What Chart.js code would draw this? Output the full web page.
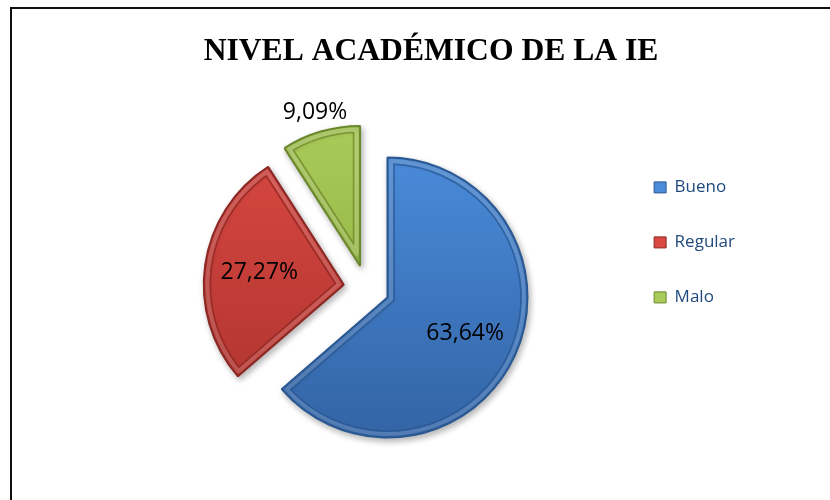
<!DOCTYPE html>
<html lang="es">
<head>
<meta charset="UTF-8">
<title>Nivel académico de la IE</title>
<style>
  html, body { margin: 0; padding: 0; background: #fff; }
  #wrap { position: relative; width: 830px; height: 500px; overflow: hidden; }
  #frame { position: absolute; left: 10px; top: 7px; width: 900px; height: 600px;
           border-left: 2px solid #111; border-top: 2px solid #111; }
  #chart { position: absolute; left: 0; top: 0; }
</style>
</head>
<body>
<div id="wrap">
  <div id="frame"></div>
  <canvas id="chart" width="830" height="500"></canvas>
</div>

<script src="https://cdn.jsdelivr.net/npm/chart.js"></script>
<script>
  const categories = ['Bueno', 'Regular', 'Malo'];
  const percentages = [63.64, 27.27, 9.09];

  const topColors = ['#4A8BDA', '#DA4842', '#A9CB59'];
  const bottomColors = ['#3263A4', '#AC322D', '#88A93A'];
  const edgeColors = ['#2A5892', '#8C2824', '#6C882C'];

  const fmt = v => v.toFixed(2).replace('.', ',') + '%';
  const total = percentages.reduce((a, b) => a + b, 0);

  // vertical gradient per slice colour, across the chart area
  const sliceFill = (context) => {
    const i = context.dataIndex;
    const {ctx, chartArea} = context.chart;
    if (!chartArea) return topColors[i];
    const g = ctx.createLinearGradient(0, chartArea.top, 0, chartArea.bottom);
    g.addColorStop(0, topColors[i]);
    g.addColorStop(1, bottomColors[i]);
    return g;
  };

  // centre of a slice once it is pulled out of the pie
  function sliceCentre(arc, dist) {
    const mid = (arc.startAngle + arc.endAngle) / 2;
    return { x: arc.x + Math.cos(mid) * dist, y: arc.y + Math.sin(mid) * dist, mid };
  }

  // path of the slice shrunk inwards by d pixels
  function insetPath(ctx, cx, cy, r, a0, a1, d) {
    const half = (a1 - a0) / 2;
    const mid = a0 + half;
    const k = d / Math.sin(half);
    const rr = r - d;
    const da = Math.asin(d / rr);
    ctx.beginPath();
    ctx.moveTo(cx + Math.cos(mid) * k, cy + Math.sin(mid) * k);
    ctx.arc(cx, cy, rr, a0 + da, a1 - da);
    ctx.closePath();
  }

  // every slice is pulled out by the same distance (Excel style explosion)
  const explode = {
    id: 'explode',
    beforeDatasetDraw(chart, args, opts) {
      const ctx = chart.ctx;
      args.meta.data.forEach(arc => {
        const c = sliceCentre(arc, opts.distance);
        ctx.save();
        ctx.shadowColor = 'rgba(0,0,0,0.28)';
        ctx.shadowBlur = 6;
        ctx.shadowOffsetX = 2;
        ctx.shadowOffsetY = 3;
        ctx.translate(c.x - arc.x, c.y - arc.y);
        arc.draw(ctx);
        ctx.restore();
      });
      return false;
    }
  };

  const bevel = {
    id: 'bevel',
    afterDatasetsDraw(chart) {
      const ctx = chart.ctx;
      const dist = chart.options.plugins.explode.distance;
      chart.getDatasetMeta(0).data.forEach((arc, i) => {
        const c = sliceCentre(arc, dist);
        ctx.save();
        ctx.lineJoin = 'round';
        insetPath(ctx, c.x, c.y, arc.outerRadius, arc.startAngle, arc.endAngle, 3.5);
        ctx.lineWidth = 4;
        ctx.strokeStyle = 'rgba(255,255,255,0.16)';
        ctx.stroke();
        insetPath(ctx, c.x, c.y, arc.outerRadius, arc.startAngle, arc.endAngle, 6.5);
        ctx.lineWidth = 1.6;
        ctx.strokeStyle = edgeColors[i];
        ctx.globalAlpha = 0.75;
        ctx.stroke();
        ctx.restore();
      });
    }
  };

  const sliceLabels = {
    id: 'sliceLabels',
    afterDatasetsDraw(chart) {
      const ctx = chart.ctx;
      const dist = chart.options.plugins.explode.distance;
      ctx.save();
      ctx.font = '23px "Open Sans"';
      ctx.fillStyle = '#000';
      ctx.textAlign = 'center';
      ctx.textBaseline = 'middle';
      chart.getDatasetMeta(0).data.forEach((arc, i) => {
        const small = percentages[i] / total < 0.1;
        const r = small ? dist + arc.outerRadius + 20 : dist + arc.outerRadius * 0.61;
        const p = sliceCentre(arc, r);
        ctx.fillText(fmt(percentages[i]), p.x, p.y);
      });
      ctx.restore();
    }
  };

  new Chart(document.getElementById('chart'), {
    type: 'pie',
    data: {
      labels: categories,
      datasets: [{
        data: percentages,
        backgroundColor: sliceFill,
        borderColor: edgeColors,
        borderWidth: 2,
        radius: 140
      }]
    },
    options: {
      responsive: false,
      animation: false,
      events: [],
      layout: { padding: { left: 117, right: 85, top: 0, bottom: 65 } },
      plugins: {
        explode: { distance: 23 },
        title: {
          display: true,
          text: 'NIVEL ACADÉMICO DE LA IE',
          color: '#000',
          font: { family: '"Liberation Serif"', size: 31.6, weight: 'bold' },
          padding: { top: 33, bottom: 70 }
        },
        legend: {
          position: 'right',
          align: 'start',
          fullSize: false,
          labels: {
            boxWidth: 12,
            boxHeight: 11,
            padding: 38,
            color: '#1F497D',
            font: { family: '"Open Sans"', size: 17 },
            generateLabels() {
              return categories.map((c, i) => ({
                text: c,
                fillStyle: topColors[i],
                strokeStyle: edgeColors[i],
                lineWidth: 1,
                fontColor: '#1F497D',
                index: i,
                datasetIndex: 0
              }));
            }
          }
        },
        tooltip: { enabled: false }
      }
    },
    plugins: [explode, bevel, sliceLabels]
  });
</script>
</body>
</html>
